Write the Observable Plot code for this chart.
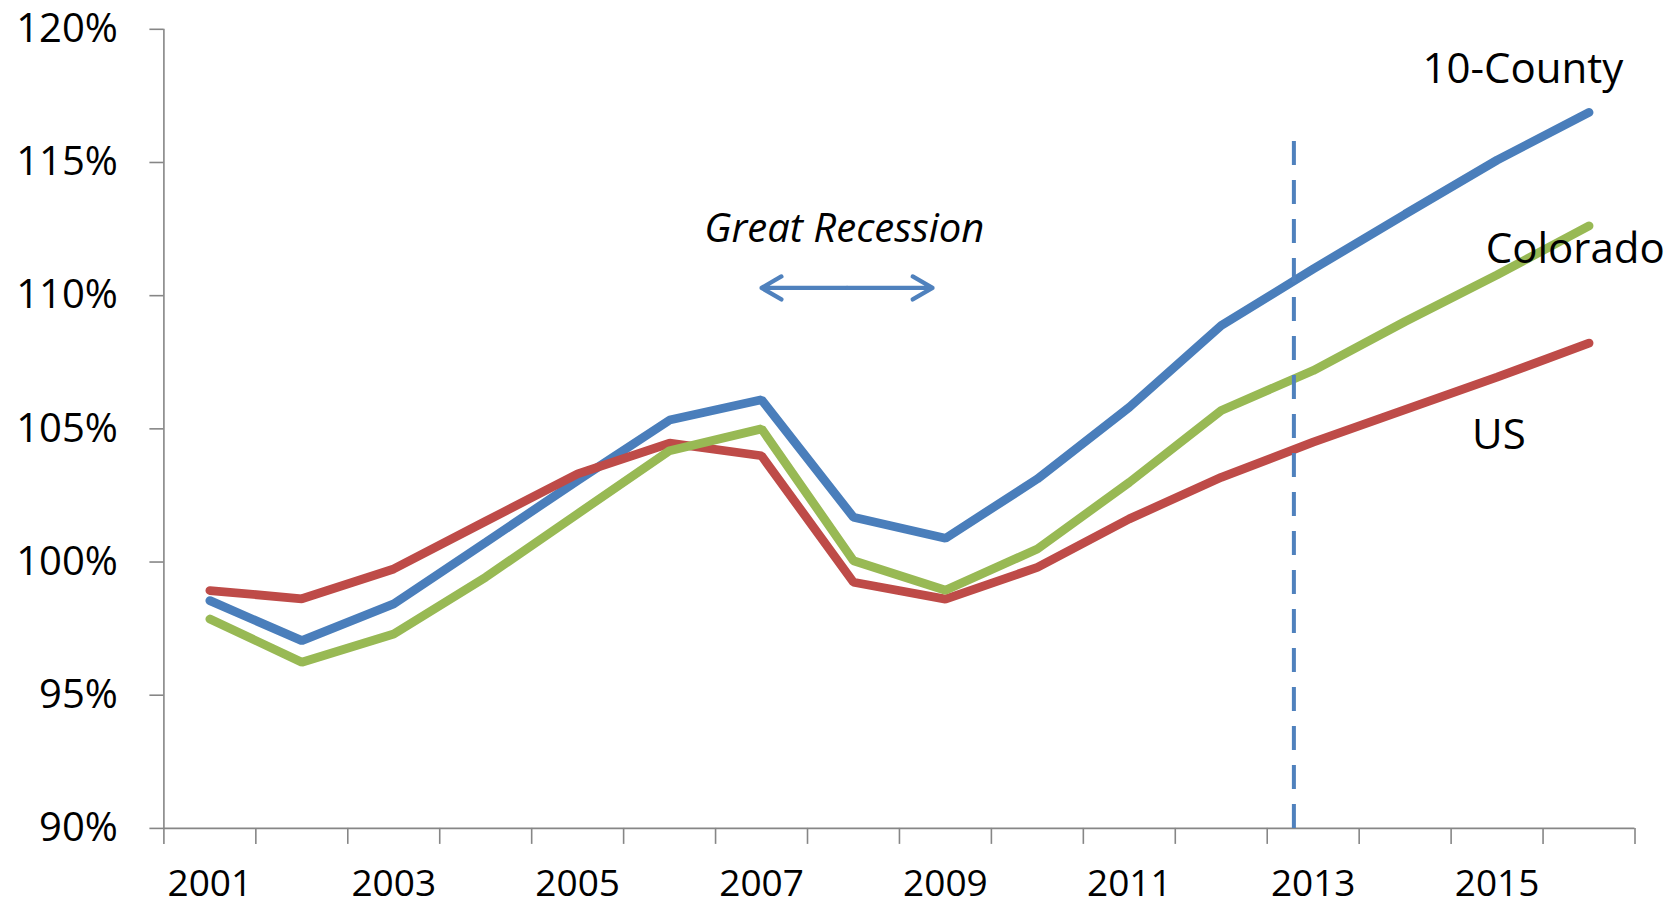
<!DOCTYPE html>
<html>
<head>
<meta charset="utf-8">
<script src="https://cdn.jsdelivr.net/npm/d3@7"></script>
<script src="https://cdn.jsdelivr.net/npm/@observablehq/plot@0.6"></script>
<style>
  html, body { margin: 0; padding: 0; background: #fff; }
  #chart svg { display: block; }
</style>
</head>
<body>
<div id="chart"></div>
<script>
const years = [2001, 2002, 2003, 2004, 2005, 2006, 2007, 2008, 2009, 2010, 2011, 2012, 2013, 2014, 2015, 2016];
const county = [98.55, 97.05, 98.43, 100.74, 103.06, 105.33, 106.09, 101.68, 100.89, 103.12, 105.81, 108.88, 111.0, 113.06, 115.09, 116.88];
const colorado = [97.86, 96.24, 97.30, 99.43, 101.81, 104.18, 105.0, 100.05, 98.94, 100.49, 102.99, 105.69, 107.19, 109.03, 110.78, 112.62];
const us = [98.93, 98.62, 99.74, 101.53, 103.31, 104.46, 103.99, 99.24, 98.61, 99.80, 101.62, 103.18, 104.50, 105.72, 106.94, 108.22];
const yTicks = [90, 95, 100, 105, 110, 115, 120];
const xTickLabels = [2001, 2003, 2005, 2007, 2009, 2011, 2013, 2015];
const seriesNames = ["10-County", "US", "Colorado"];
const seriesColors = ["#4A7EBB", "#BE4B48", "#98B954"];
const labels = [
  {text: "10-County", x: 2015.28, y: 118.5},
  {text: "Colorado", x: 2015.85, y: 111.74},
  {text: "US", x: 2015.02, y: 104.76}
];
const recession = {start: 2007.0, end: 2008.86, y: 110.29, text: "Great Recession", tx: 2007.9, ty: 112.5};
const forecastStart = {x: 2012.79, top: 116.16};

const seriesValues = {"10-County": county, "Colorado": colorado, "US": us};
const rows = seriesNames.flatMap(name => years.map((yr, i) => ({series: name, year: yr, value: seriesValues[name][i]})));
const boundaries = d3.range(years[0] - 0.5, years[years.length - 1] + 1, 1);
const mid = (recession.start + recession.end) / 2;

const axisColor = "#868686";
const font = "Open Sans, Lato, sans-serif";

const chart = Plot.plot({
  width: 1675,
  height: 909,
  marginLeft: 163.4,
  marginRight: 40.5,
  marginTop: 28.8,
  marginBottom: 81.1,
  style: {fontFamily: font, background: "#fff", color: "#000"},
  x: {domain: [years[0] - 0.5, years[years.length - 1] + 0.5]},
  y: {domain: [90, 120]},
  color: {domain: seriesNames, range: seriesColors},
  marks: [
    Plot.ruleX([years[0] - 0.5], {y1: 90, y2: 120, stroke: axisColor, strokeWidth: 1.6}),
    Plot.ruleY([90], {stroke: axisColor, strokeWidth: 1.6}),
    Plot.axisY({ticks: yTicks, tickFormat: d => d + "%", tickSize: 14, tickPadding: 32, fontSize: 40, stroke: axisColor, strokeWidth: 1.6, label: null, color: "#000"}),
    Plot.axisX({ticks: boundaries, tickFormat: () => "", tickSize: 16, stroke: axisColor, strokeWidth: 1.6, label: null}),
    Plot.axisX({ticks: xTickLabels, tickFormat: d => String(d), tickSize: 0, tickPadding: 41, fontSize: 37, label: null}),
    Plot.line(rows, {x: "year", y: "value", z: "series", stroke: "series", strokeWidth: 8.8, strokeLinejoin: "miter", strokeLinecap: "round"}),
    Plot.ruleX([forecastStart.x], {y1: 90, y2: forecastStart.top, stroke: "#4F81BD", strokeWidth: 4, strokeDasharray: "24,15"}),
    Plot.arrow([recession], {x1: mid, y1: "y", x2: "start", y2: "y", stroke: "#4F81BD", strokeWidth: 4.3, headLength: 8, bend: 0}),
    Plot.arrow([recession], {x1: mid, y1: "y", x2: "end", y2: "y", stroke: "#4F81BD", strokeWidth: 4.3, headLength: 8, bend: 0}),
    Plot.text([recession], {x: "tx", y: "ty", text: "text", fontSize: 40, fontStyle: "italic", fill: "#000"}),
    Plot.text(labels, {x: "x", y: "y", text: "text", fontSize: 42, fill: "#000"})
  ]
});
document.getElementById("chart").appendChild(chart);
</script>
</body>
</html>
